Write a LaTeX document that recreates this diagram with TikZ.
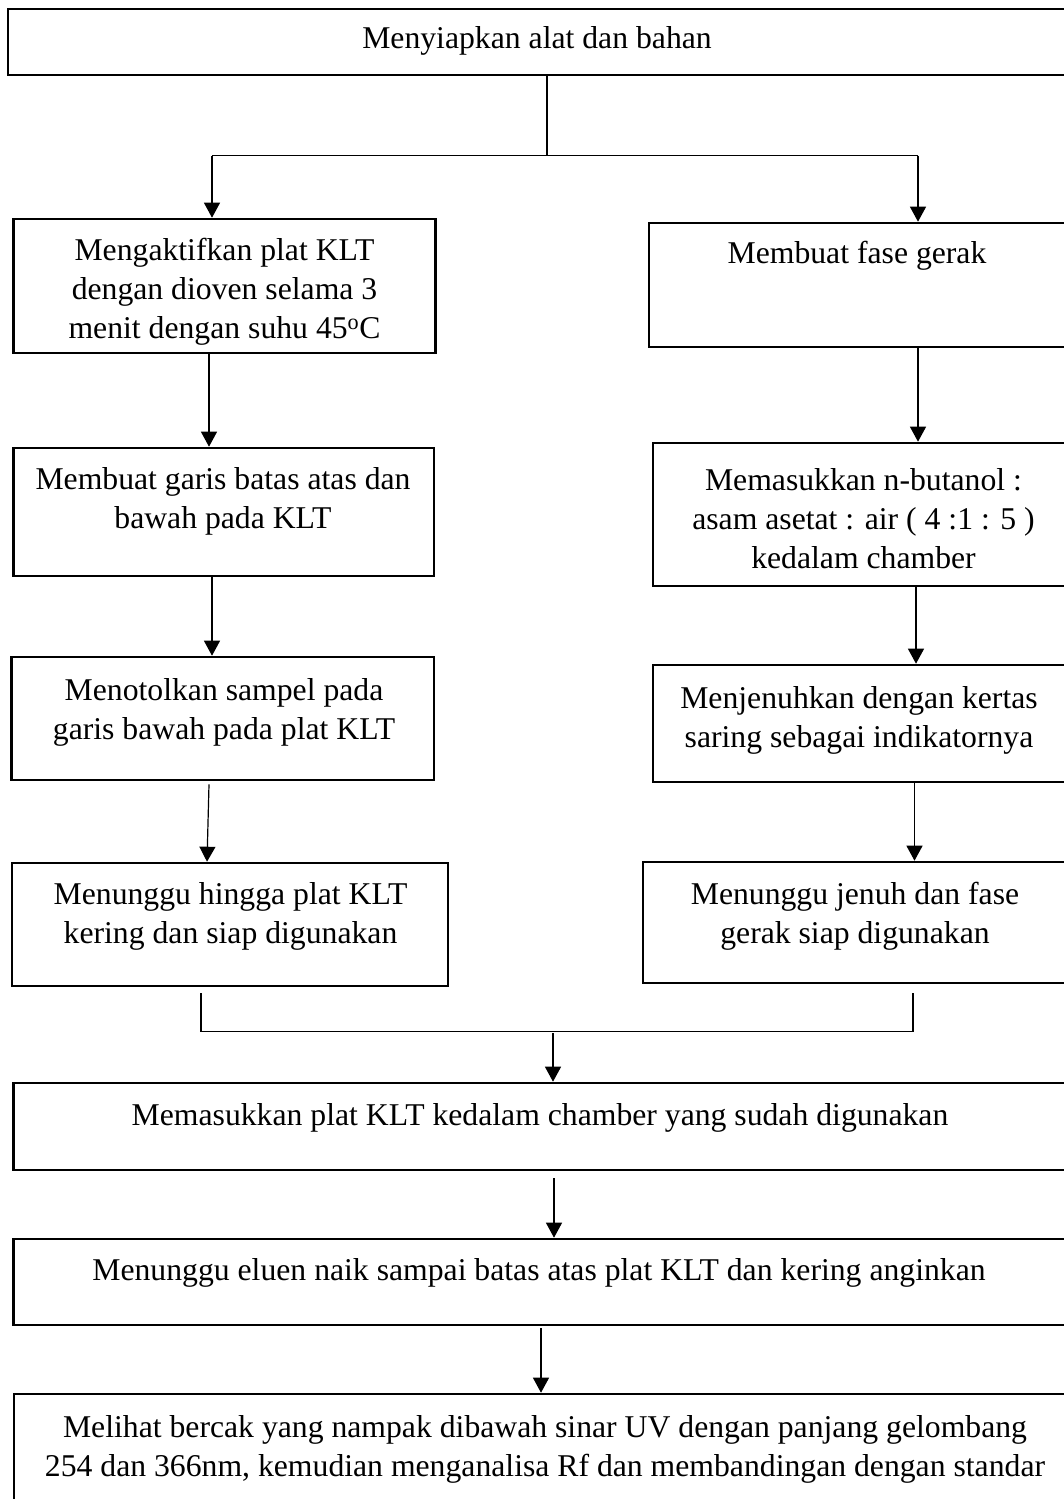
\documentclass[tikz,border=0pt]{standalone}
\usepackage{fontspec}
\setmainfont{Liberation Serif}
\usetikzlibrary{arrows.meta,fit,calc}
\begin{document}
\begin{tikzpicture}[x=1pt,y=-1pt,
  box/.style={draw, line width=2.6pt, inner sep=0pt},
  txt/.style={align=center, font=\fontsize{31.7}{39}\selectfont, inner sep=0pt},
  ln/.style={line width=1.2pt},
  arr/.style={line width=1.2pt, -{Triangle[length=15pt,width=16pt]}}]
\useasboundingbox (0,0) rectangle (1064,1499);
% boxes
\node[box, fit={(8,9) (1075,75)}] (T) {};
\node[box, fit={(13.6,219) (435.5,353)}] (L1) {};
\node[box, fit={(13.6,448) (434,576)}] (L2) {};
\node[box, fit={(11.5,657) (434,780)}] (L3) {};
\node[box, fit={(12,863) (448,986)}] (L4) {};
\node[box, fit={(649,223) (1075,347)}] (R1) {};
\node[box, fit={(653,443) (1075,586)}] (R2) {};
\node[box, fit={(653,665) (1075,782)}] (R3) {};
\node[box, fit={(643,862) (1075,983)}] (R4) {};
\node[box, fit={(13.5,1083) (1075,1170)}] (B1) {};
\node[box, fit={(13.5,1239) (1075,1325)}] (B2) {};
\node[box, fit={(14,1394) (1075,1510)}] (B3) {};
% texts
\node[txt] (tT) at (537,41) {Menyiapkan alat dan bahan};
\node[txt] (tL1) at (224.5,292) {Mengaktifkan plat KLT\\dengan dioven selama 3\\menit dengan suhu 45\textsuperscript{o}C};
\node[txt] (tL2) at (223,501) {Membuat garis batas atas dan\\bawah pada KLT};
\node[txt] (tL3) at (224,712) {Menotolkan sampel pada\\garis bawah pada plat KLT};
\node[txt] (tL4) at (230.5,916.5) {Menunggu hingga plat KLT\\kering dan siap digunakan};
\node[txt] (tR1) at (857,256) {Membuat fase gerak};
\node[txt] (tR2) at (863.5,519) {Memasukkan n-butanol :\\asam asetat : air ( 4 :1 : 5 )\\kedalam chamber};
\node[txt] (tR3) at (859,720) {Menjenuhkan dengan kertas\\saring sebagai indikatornya};
\node[txt] (tR4) at (855,916.5) {Menunggu jenuh dan fase\\gerak siap digunakan};
\node[txt] (tB1) at (540,1118) {Memasukkan plat KLT kedalam chamber yang sudah digunakan};
\node[txt] (tB2) at (539,1273) {Menunggu eluen naik sampai batas atas plat KLT dan kering anginkan};
\node[txt] (tB3) at (545,1449) {Melihat bercak yang nampak dibawah sinar UV dengan panjang gelombang\\254 dan 366nm, kemudian menganalisa Rf dan membandingan dengan standar};
% split connector
\coordinate (sp) at (547,155.5);
\coordinate (jl) at (212,155.5);
\coordinate (jr) at (918,155.5);
\draw[ln] (T.south -| sp) -- (sp);
\draw[ln] (jl) -- (jr);
\draw[arr] (jl) -- (jl |- L1.north);
\draw[arr] (jr) -- (jr |- R1.north);
% left column
\draw[arr] (L1.south -| 209,0) -- (L2.north -| 209,0);
\draw[arr] (L2.south -| 212,0) -- (L3.north -| 212,0);
\draw[arr] ($(L3.south -| 209,0)+(0,3)$) -- (L4.north -| 207,0);
% right column
\draw[arr] (R1.south -| 918,0) -- (R2.north -| 918,0);
\draw[arr] (R2.south -| 916,0) -- (R3.north -| 916,0);
\draw[arr] (R3.south -| 914.5,0) -- (R4.north -| 914.5,0);
% merge
\coordinate (ml) at (201,1031.5);
\coordinate (mr) at (913,1031.5);
\coordinate (mm) at (553,1031.5);
\draw[ln] ($(L4.south -| ml)+(0,6)$) -- (ml) -- (mr) -- ($(R4.south -| mr)+(0,9)$);
\draw[arr] ($(mm)+(0,1.5)$) -- (mm |- B1.north);
% bottom column
\draw[arr] ($(B1.south -| 554,0)+(0,7)$) -- (B2.north -| 554,0);
\draw[arr] ($(B2.south -| 541,0)+(0,2)$) -- (B3.north -| 541,0);
\end{tikzpicture}
\end{document}
